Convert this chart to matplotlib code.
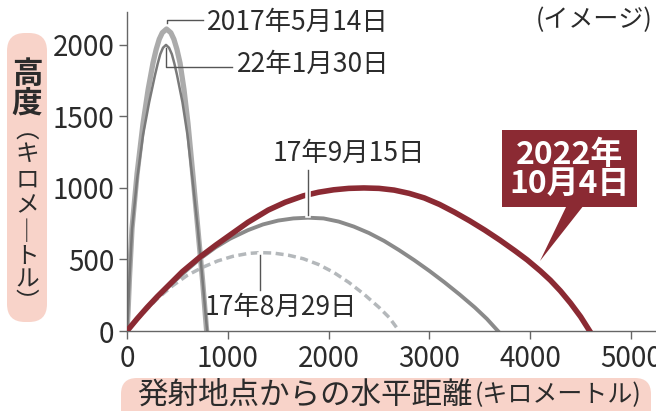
import matplotlib
matplotlib.use('Agg')
import matplotlib.pyplot as plt
import matplotlib.patheffects as pe
from matplotlib.patches import FancyBboxPatch, Polygon, Rectangle
from matplotlib.transforms import IdentityTransform
import numpy as np

W, H = 656, 411

# trajectories: horizontal distance (km), altitude (km)
may14_x = [0, 10, 25, 50, 100, 159, 210, 258, 290, 320, 350, 392, 435, 465, 495, 526,
           565, 605, 655, 704, 750, 790]
may14_y = [0, 130, 380, 720, 1100, 1450, 1690, 1874, 1970, 2040, 2085, 2111, 2085, 2040,
           1970, 1874, 1690, 1450, 1080, 706, 350, 0]

jan30_x = [0, 10, 25, 50, 100, 159, 220, 278, 305, 330, 357, 387, 417, 445, 470, 496,
           550, 600, 650, 704, 750, 795]
jan30_y = [0, 120, 370, 710, 1060, 1370, 1600, 1790, 1870, 1935, 1980, 2000, 1980, 1935,
           1870, 1790, 1600, 1370, 1060, 706, 350, 0]

sep15_x = [0, 150, 300, 450, 600, 724, 880, 1022, 1200, 1349, 1500, 1650, 1796, 1950,
           2100, 2250, 2400, 2550, 2700, 2850, 3000, 3150, 3300, 3450, 3570, 3680]
sep15_y = [0, 125, 235, 335, 430, 505, 585, 645, 705, 745, 772, 787, 792, 787,
           765, 730, 685, 630, 565, 495, 420, 340, 255, 165, 85, 0]

aug29_x = [0, 150, 300, 450, 600, 750, 900, 1050, 1200, 1319, 1450, 1600, 1750, 1900,
           2050, 2200, 2350, 2500, 2600, 2700]
aug29_y = [0, 118, 225, 315, 390, 445, 490, 522, 542, 548, 545, 530, 505, 465,
           410, 340, 258, 165, 95, 0]

oct4_x = [0, 100, 200, 300, 400, 550, 720, 880, 1050, 1200, 1400, 1570, 1750, 1900,
          2050, 2200, 2350, 2500, 2650, 2800, 2950, 3100, 3250, 3400, 3550, 3700,
          3850, 3970, 4100, 4200, 4300, 4400, 4500, 4590]
oct4_y = [0, 85, 165, 240, 310, 415, 515, 600, 685, 760, 845, 900, 945, 970,
          987, 997, 1000, 997, 985, 962, 930, 885, 830, 770, 705, 635,
          560, 497, 420, 355, 280, 195, 100, 0]

x_ticks = [0, 1000, 2000, 3000, 4000, 5000]
y_ticks = [0, 500, 1000, 1500, 2000]

red = '#8b2a33'
pink = '#f8d3c9'
txt = '#2b2b2b'
axc = '#666666'

plt.rcParams['font.family'] = ['Liberation Sans Narrow', 'Noto Sans CJK JP', 'DejaVu Sans']

fig = plt.figure(figsize=(W / 100, H / 100), dpi=100)
fig.patch.set_facecolor('white')
ax = fig.add_axes([127 / W, 80 / H, (W - 127) / W, 319 / H])

ax.plot(aug29_x, aug29_y, color='#b4b8bb', lw=2.5, ls=(0, (2.3, 1.3)), solid_capstyle='butt')
ax.plot(sep15_x, sep15_y, color='#8a8a8a', lw=2.8, solid_joinstyle='round')
ax.plot(may14_x, may14_y, color='#ababab', lw=3.8, solid_joinstyle='round')
ax.plot(jan30_x, jan30_y, color='#7a7a7a', lw=1.8, solid_joinstyle='round')
ax.plot(oct4_x, oct4_y, color=red, lw=4.0, solid_joinstyle='round', zorder=4)

ax.set_xlim(0, 5248)
ax.set_ylim(0, 2230)
ax.set_xticks(x_ticks)
ax.set_yticks(y_ticks)
for s in ['top', 'right']:
    ax.spines[s].set_visible(False)
for s in ['left', 'bottom']:
    ax.spines[s].set_color(axc)
    ax.spines[s].set_linewidth(1)
ax.tick_params(direction='out', length=6, width=1, color=axc, labelsize=20,
               labelcolor=txt, pad=3)


def to_data(px, py):
    return ax.transData.inverted().transform((px, H - py))


lead = dict(color='#555555', lw=1.0, zorder=5,
            path_effects=[pe.Stroke(linewidth=4, foreground='white'), pe.Normal()])
afont = dict(fontsize=19, color=txt, va='center')

# 2017-05-14 label
i = int(np.argmax(may14_y))
p1 = to_data(0, 20)
p2 = to_data(203, 20)
ax.plot([may14_x[i], may14_x[i], p2[0]], [may14_y[i] + 40, p1[1], p1[1]],
        color='#555555', lw=1.0, clip_on=False)
ax.text(*to_data(207, 22), '2017年5月14日', **afont)

# 2022-01-30 label
i = int(np.argmax(jan30_y))
p1 = to_data(0, 67)
p2 = to_data(232, 67)
ax.plot([jan30_x[i], jan30_x[i], p2[0]], [jan30_y[i] - 20, p1[1], p1[1]],
        color='#555555', lw=1.0, zorder=5)
ax.text(*to_data(237, 64), '22年1月30日', **afont)

# 2017-09-15 label
i = int(np.argmax(sep15_y))
top = to_data(0, 170)[1]
ax.plot([sep15_x[i], sep15_x[i]], [sep15_y[i] + 20, top], **lead)
ax.text(*to_data(349, 153), '17年9月15日', ha='center', **afont)

# 2017-08-29 label
i = int(np.argmax(aug29_y))
bot = to_data(0, 290)[1]
ax.plot([aug29_x[i], aug29_x[i]], [aug29_y[i] - 15, bot], **lead)
ax.text(*to_data(281, 307), '17年8月29日', ha='center', **afont)

# 2022-10-04 callout box
fig.patches.append(Rectangle((502, H - 207), 135, 77, transform=IdentityTransform(),
                             facecolor=red, edgecolor='none', figure=fig))
fig.patches.append(Polygon([(567, H - 205), (584, H - 205), (540, H - 261)],
                           transform=IdentityTransform(), facecolor=red,
                           edgecolor='none', figure=fig))
fig.text(570 / W, 1 - 169 / H, '2022年\n10月4日', family='Noto Sans CJK JP',
         fontweight='bold', fontsize=23, color='white', ha='center', va='center',
         linespacing=0.88)

fig.text(652 / W, 1 - 20 / H, '(イメージ)', family=['Noto Sans CJK JP'],
         fontsize=18, color=txt, ha='right', va='center')

# axis title boxes
fig.patches.append(FancyBboxPatch((7, H - 322), 40, 289,
                                  boxstyle='round,pad=0,rounding_size=18',
                                  transform=IdentityTransform(), facecolor=pink,
                                  edgecolor='none', figure=fig))
fig.patches.append(FancyBboxPatch((121, -20), 530, 53,
                                  boxstyle='round,pad=0,rounding_size=16',
                                  transform=IdentityTransform(), facecolor=pink,
                                  edgecolor='none', figure=fig))

ylab = [('高', 74, 22, 'bold'), ('度', 105, 22, 'bold'), ('︵', 132, 17, 'normal'),
        ('キ', 154, 17, 'normal'), ('ロ', 180, 17, 'normal'), ('メ', 206, 17, 'normal'),
        ('｜', 232, 17, 'normal'), ('ト', 256, 17, 'normal'), ('ル', 280, 17, 'normal'),
        ('︶', 303, 17, 'normal')]
for ch, py, fs, fw in ylab:
    fig.text(27 / W, 1 - py / H, ch, family='Noto Sans CJK JP', fontsize=fs,
             fontweight=fw, color=txt, ha='center', va='center')

t1 = fig.text(137 / W, 1 - 395 / H, '発射地点からの水平距離', family='Noto Sans CJK JP',
              fontsize=22, color=txt, ha='left', va='center')
r = fig.canvas.get_renderer()
bb = t1.get_window_extent(renderer=r)
fig.text((bb.x1 + 2) / W, 1 - 395 / H, '(キロメートル)', family='Noto Sans CJK JP',
         fontsize=18, color=txt, ha='left', va='center')

fig.savefig('out.png', dpi=100)
